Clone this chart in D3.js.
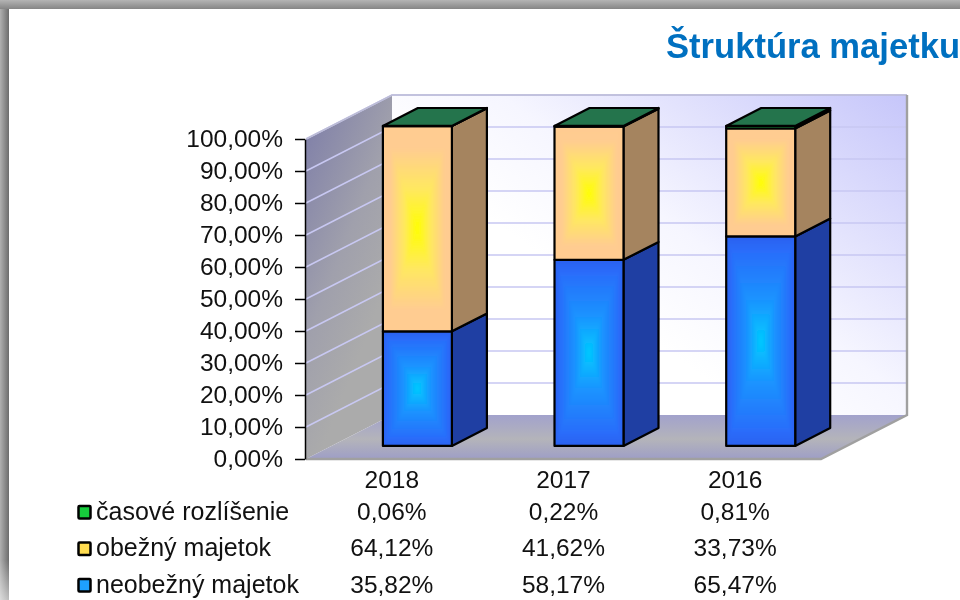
<!DOCTYPE html>
<meta charset="utf-8">
<style>
  html, body { margin: 0; padding: 0; background: #fff; }
  svg { display: block; font-family: "Liberation Sans", Arial, sans-serif; }
  .axis path, .axis line { stroke: #000; stroke-width: 1.5; }
  .axis text { font-size: 24.5px; fill: #111; font-family: "Liberation Sans", Arial, sans-serif; }
  .lbl { font-size: 24.5px; fill: #111; }
  .legend { font-size: 25px; fill: #111; }
  .title { font-size: 34.6px; font-weight: bold; fill: #0070c0; }
  .box path { stroke: #000; stroke-width: 2.2; stroke-linejoin: round; }
  .axis text, .lbl, .legend, .title { filter: blur(.3px); }
</style>
<body>
<script src="https://d3js.org/d3.v7.min.js"></script>
<script>

var years = ["2018", "2017", "2016"];
var neobezny = [35.82, 58.17, 65.47];
var obezny = [64.12, 41.62, 33.73];
var casove = [0.06, 0.22, 0.81];
var seriesNames = ["časové rozlíšenie", "obežný majetok", "neobežný majetok"];
var yTicks = [0, 10, 20, 30, 40, 50, 60, 70, 80, 90, 100];

var width = 960, height = 600;
var left = 306, right = 821, bottom = 459, top_ = 139;
var depthX = 86, depthY = -44;

var x = d3.scaleBand().domain(years).range([left, right]);
var y = d3.scaleLinear().domain([0, 100]).range([bottom, top_]);
var barW = 69;

// oblique projection: z is 0 at the front of the floor, 1 at the back wall
function px(xv, z) { return xv + z * depthX; }
function py(yv, z) { return yv + z * depthY; }
function poly(pts) {
    return "M" + pts.map(function(p) { return px(p[0], p[2]).toFixed(1) + "," + py(p[1], p[2]).toFixed(1); }).join("L") + "Z";
}

var svg = d3.select("body").append("svg").attr("width", width).attr("height", height);
var defs = svg.append("defs");

function gradient(id, x1, y1, x2, y2, stops, units) {
    var g = defs.append("linearGradient").attr("id", id)
        .attr("x1", x1).attr("y1", y1).attr("x2", x2).attr("y2", y2);
    if (units) g.attr("gradientUnits", units);
    stops.forEach(function(s) {
        g.append("stop").attr("offset", s[0]).attr("stop-color", s[1]).attr("stop-opacity", s[2] == null ? 1 : s[2]);
    });
}
gradient("frameLeft", 0, 0, 1, 0, [[0, "#b0b0b0"], [1, "#6c6c6c"]]);
gradient("frameTop", 0, 0, 0, 1, [[0, "#b4b4b4"], [1, "#858585"]]);
gradient("frameFade", 0, 0, 0, 1, [[0, "#fff", 0], [1, "#fff", 0.55]]);
gradient("backWall", 640, 330, 848, 51, [[0, "#ffffff"], [0.3, "#f6f6ff"], [1, "#c6c6fa"]], "userSpaceOnUse");
gradient("sideWall", 0, 0, 0.6, 1, [[0, "#7c7ca8"], [0.5, "#a0a0ac"], [0.8, "#ababab"], [1, "#ababab"]]);
gradient("floor", 0, 0, 0, 1, [[0, "#a2a2cc"], [0.55, "#b4b4ba"], [1, "#9e9ec6"]]);

defs.append("filter").attr("id", "soft").append("feGaussianBlur").attr("stdDeviation", 1.4);

// slide frame
svg.append("rect").attr("width", 9).attr("height", height).attr("fill", "url(#frameLeft)");
svg.append("rect").attr("width", width).attr("height", 9).attr("fill", "url(#frameTop)");
svg.append("rect").attr("y", 560).attr("width", 9).attr("height", 40).attr("fill", "url(#frameFade)");

// walls
svg.append("path").attr("d", poly([[left, bottom, 0], [left, top_, 0], [left, top_, 1], [left, bottom, 1]]))
    .attr("fill", "url(#sideWall)");
svg.append("path").attr("d", poly([[left, bottom, 1], [left, top_, 1], [right, top_, 1], [right, bottom, 1]]))
    .attr("fill", "url(#backWall)");
svg.append("path").attr("d", poly([[left, bottom, 0], [left, bottom, 1], [right, bottom, 1], [right, bottom, 0]]))
    .attr("fill", "url(#floor)");

// gridlines on both walls
svg.append("g").selectAll("path").data(yTicks.filter(function(d) { return d > 0; })).enter().append("path")
    .attr("d", function(d) {
        return "M" + px(left, 0) + "," + py(y(d), 0) + "L" + px(left, 1) + "," + py(y(d), 1) + "L" + px(right, 1) + "," + py(y(d), 1);
    })
    .attr("fill", "none").attr("stroke", "#c8c8f2").attr("stroke-width", 1.6);

// wall edges
svg.append("path").attr("d", "M" + px(left, 0) + "," + py(top_, 0) + "L" + px(left, 1) + "," + py(top_, 1) + "L" + px(right, 1) + "," + py(top_, 1))
    .attr("fill", "none").attr("stroke", "#bcbcd6").attr("stroke-width", 1.5);
svg.append("path").attr("d", "M" + px(right, 1) + "," + py(top_, 1) + "L" + px(right, 1) + "," + py(bottom, 1) + "L" + px(right, 0) + "," + py(bottom, 0) + "L" + px(left, 0) + "," + py(bottom, 0))
    .attr("fill", "none").attr("stroke", "#a0a0a0").attr("stroke-width", 2.4);

// stacked boxes
var z0 = 0.297, z1 = 0.704;
var stacks = [
    { values: neobezny, side: "#1f3fa3", domain: [0, 0.12, 0.6, 1], range: ["#2a62f0", "#2a6cfa", "#1a94ff", "#00ccff"] },
    { values: obezny, side: "#a5845f", domain: [0, 0.2, 0.6, 1], range: ["#ffcc91", "#ffcc91", "#ffe860", "#ffff00"] },
    { values: casove, side: "#145c2c", domain: [0, 1], range: ["#1c8a3c", "#1c8a3c"] }
];

years.forEach(function(year, i) {
    var xl = x(year) + x.bandwidth() / 2 - barW / 2;
    var xr = xl + barW;
    var g = svg.append("g").attr("class", "box");
    var base = 0;
    stacks.forEach(function(s, si) {
        var y0 = y(base), y1 = y(base + s.values[i]);
        base += s.values[i];
        var fx0 = px(xl, z0), fx1 = px(xr, z0), fy0 = py(y0, z0), fy1 = py(y1, z0);

        g.append("path").attr("d", poly([[xr, y0, z0], [xr, y1, z0], [xr, y1, z1], [xr, y0, z1]])).attr("fill", s.side);

        // front face: concentric rectangles give the path gradient
        var clipId = "clip" + i + si;
        defs.append("clipPath").attr("id", clipId).append("rect")
            .attr("x", fx0).attr("y", fy1).attr("width", fx1 - fx0).attr("height", fy0 - fy1);
        var color = d3.scaleLinear().domain(s.domain).range(s.range).clamp(true);
        var holder = g.append("g").attr("clip-path", "url(#" + clipId + ")");
        var inner = holder.append("g").attr("filter", "url(#soft)");
        inner.append("rect").attr("x", fx0 - 5).attr("y", fy1 - 5).attr("width", fx1 - fx0 + 10).attr("height", fy0 - fy1 + 10).attr("fill", s.range[0]);
        inner.selectAll("rect.step").data(d3.range(0, 1, 1 / 40)).enter().append("rect")
            .attr("class", "step")
            .attr("x", function(t) { return fx0 + t * (fx1 - fx0) / 2; })
            .attr("y", function(t) { return fy1 + t * (fy0 - fy1) / 2; })
            .attr("width", function(t) { return (1 - t) * (fx1 - fx0); })
            .attr("height", function(t) { return (1 - t) * (fy0 - fy1); })
            .attr("fill", function(t) { return color(t); });
        g.append("path").attr("d", poly([[xl, y0, z0], [xl, y1, z0], [xr, y1, z0], [xr, y0, z0]])).attr("fill", "none");

        if (si == stacks.length - 1) {
            g.append("path").attr("d", poly([[xl, y1, z0], [xl, y1, z1], [xr, y1, z1], [xr, y1, z0]])).attr("fill", "#24744c");
        }
    });
});

// value axis
var fmt = d3.formatLocale({ decimal: ",", thousands: " ", grouping: [3], currency: ["", ""] }).format(".2f");
var axis = d3.axisLeft(y).tickValues(yTicks).tickSize(10).tickSizeOuter(0).tickPadding(12)
    .tickFormat(function(d) { return fmt(d) + "%"; });
svg.append("g").attr("class", "axis").attr("transform", "translate(" + (left - 1) + ",0)").call(axis);

// category labels
var center = function(d) { return x(d) + x.bandwidth() / 2; };
svg.append("g").selectAll("text").data(years).enter().append("text")
    .attr("class", "lbl").attr("text-anchor", "middle")
    .attr("x", center).attr("y", 488).text(function(d) { return d; });

// data table
var rowY = d3.scalePoint().domain(seriesNames).range([519.5, 592.5]);
var tableRows = [casove, obezny, neobezny];
var keyColors = ["#16cc3c", "#ffdc50", "#1ea0ff"];

seriesNames.forEach(function(name, r) {
    var ry = rowY(name);
    svg.append("rect").attr("x", 78.5).attr("y", ry - 13.5).attr("width", 12).attr("height", 12.5).attr("rx", 1)
        .attr("fill", keyColors[r]).attr("stroke", "#000").attr("stroke-width", 2.5);
    svg.append("text").attr("class", "legend").attr("x", 96).attr("y", ry).text(name);
    svg.append("g").selectAll("text").data(years).enter().append("text")
        .attr("class", "lbl").attr("text-anchor", "middle")
        .attr("x", center).attr("y", ry)
        .text(function(d, i) { return fmt(tableRows[r][i]) + "%"; });
});

// title
svg.append("text").attr("class", "title").attr("x", 666).attr("y", 58).text("Štruktúra majetku");

</script>
</body>
